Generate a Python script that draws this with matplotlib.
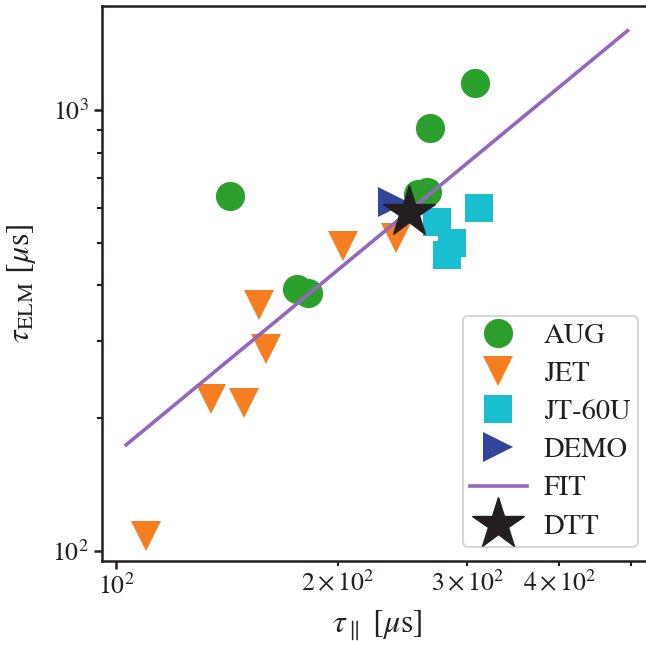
import matplotlib
matplotlib.use('Agg')
import matplotlib.pyplot as plt

plt.rcParams['font.family'] = 'STIXGeneral'
plt.rcParams['mathtext.fontset'] = 'stix'

# datos (tau_par [us], tau_ELM [us])
aug_x = [142.8, 175.9, 182.4, 266.7, 307.6, 256.9, 264.2]
aug_y = [638, 392, 385, 912, 1153, 645, 652]

jet_x = [109.9, 134.5, 149.1, 159.6, 156.3, 203.3, 239.8]
jet_y = [108.3, 221, 216.8, 286.4, 360.3, 492, 511.8]

jt60_x = [311.1, 273.1, 285.5, 281.8]
jt60_y = [600, 555.8, 500.6, 469.8]

demo_x = [237.8]
demo_y = [619.5]

fit_x = [103.2, 494.8]
fit_y = [174, 1513]

dtt_x = [250]
dtt_y = [588]

negro = '#231f20'

fig = plt.figure(figsize=(6.46, 6.45), dpi=100)
ax = fig.add_axes([0.1579, 0.1302, 1.009 - 0.1579, 0.9907 - 0.1302])

ms = 21
ax.plot(aug_x, aug_y, 'o', ms=ms, color='#2ca02c', mew=0, label='AUG')
ax.plot(jet_x, jet_y, 'v', ms=ms + 1, color='#f57f20', mew=0, label='JET')
ax.plot(jt60_x, jt60_y, 's', ms=ms - 0.5, color='#1abfcf', mew=0, label='JT-60U')
ax.plot(demo_x, demo_y, '>', ms=ms + 1, color='#32449b', mew=0, label='DEMO')
ax.plot(fit_x, fit_y, '-', lw=2.6, color='#9467bd', label='FIT')
ax.plot(dtt_x, dtt_y, '*', ms=39, color=negro, mec=negro, label='DTT')

ax.set_xscale('log')
ax.set_yscale('log')
ax.set_xlim(95.72, 533.8)
ax.set_ylim(94.9, 1721)

ax.set_xlabel(r'$\tau_\parallel$ [$\mu$s]', fontsize=23, color=negro, labelpad=6)
ax.set_ylabel(r'$\tau_{\rm ELM}$ [$\mu$s]', fontsize=23, color=negro, labelpad=10)

for s in ax.spines.values():
    s.set_linewidth(1.8)
    s.set_color(negro)
ax.tick_params(which='major', length=5.8, width=1.8, labelsize=18.5, colors=negro)
ax.tick_params(which='minor', length=3.6, width=1.5, labelsize=18.5, colors=negro)

leg = ax.legend(loc='lower right', fontsize=20.5, frameon=True, fancybox=True,
                borderaxespad=0.5, borderpad=0.25, handletextpad=0.6,
                labelspacing=0.43)
leg.get_frame().set_edgecolor('#cccccc')
leg.get_frame().set_linewidth(1.5)
for t in leg.get_texts():
    t.set_color(negro)

fig.savefig('out.png', dpi=100)
